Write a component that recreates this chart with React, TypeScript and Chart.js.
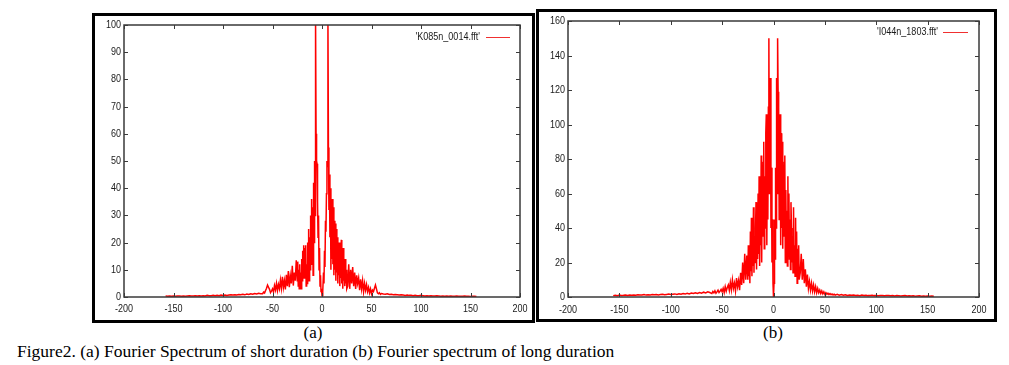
import React, { useEffect, useRef } from "react";
import { Chart, registerables } from "chart.js";

Chart.register(...registerables);

// ---------- Panel (a): 'K085n_0014.fft' ----------
const A_LABEL = "'K085n_0014.fft'";
const A_TAIL_L_START = -158; // step 2
const A_TAIL_L = [
  0.4, 0.3, 0.4, 0.3, 0.4, 0.3, 0.4, 0.4, 0.3,
  0.4, 0.3, 0.4, 0.5, 0.4, 0.4, 0.5, 0.4, 0.5, 0.4,
  0.5, 0.4, 0.6, 0.5, 0.5, 0.6, 0.5, 0.6, 0.5, 0.7,
  0.6, 0.7, 0.6, 0.7, 0.8, 0.7, 0.8, 0.7, 0.9, 0.8,
  1.0, 0.8, 1.1, 0.9, 1.2, 1.0, 1.3, 1.1, 1.4, 1.2,
];
const A_MID_L_START = -60; // step 1
const A_MID_L = [
  1.2, 1.8, 1.5, 2.4, 3.2, 4.4, 3.6, 2.8, 1.6, 2.2,
  3.0, 1.8, 4.2, 2.6, 5.0, 2.4, 4.6, 3.0, 6.2, 3.2,
  7.4, 3.5, 6.0, 2.8, 8.2, 4.0, 9.5, 3.6, 7.8, 5.0,
  11.5, 4.2, 9.0, 6.0, 13.5,
];
const A_CENTER_START = -25; // step 0.5
const A_CENTER = [
  6, 13, 4, 10, 3, 12, 5, 9, 3, 14,
  6, 17, 8, 19, 7, 18, 10, 19, 4, 12,
  5, 20, 8, 25, 6, 22, 10, 30, 12, 36,
  15, 33, 8, 42, 20, 50, 30, 102, 60, 50,
  49, 35, 22, 30, 10, 18, 4, 8, 2, 3,
  0.5,
  3, 2, 9, 5, 17, 11, 28, 24, 38, 50,
  48, 102, 55, 32, 45, 22, 40, 10, 35, 14,
  36, 12, 33, 8, 28, 10, 27, 6, 25, 9,
  22, 5, 19, 8, 20, 4, 16, 7, 21, 5,
  13, 3, 18, 6, 12, 4, 14, 5, 10, 3,
];
const A_MID_R_START = 26; // step 1
const A_MID_R = [
  4, 12, 3, 10, 5, 11, 4, 9, 3, 8,
  5, 7, 2.5, 6.5, 3, 6, 2, 5, 2.5, 4.5,
  2, 3.5, 1.5, 3, 1.2, 2.5, 2, 3.2, 4.4, 3,
  1.5, 1.2, 1.6, 1.0, 1.3,
];
const A_TAIL_R_START = 62; // step 2
const A_TAIL_R = [
  1.1, 1.0, 1.2, 0.9, 1.0, 0.8, 0.9, 0.8, 0.7, 0.8,
  0.7, 0.6, 0.7, 0.6, 0.6, 0.5, 0.6, 0.5, 0.5, 0.6,
  0.5, 0.4, 0.5, 0.4, 0.5, 0.4, 0.4, 0.5, 0.4, 0.3,
  0.4, 0.3, 0.4, 0.3, 0.4, 0.3, 0.3, 0.4, 0.3, 0.3,
  0.3, 0.4, 0.3, 0.3, 0.2, 0.3, 0.3, 0.2,
];

// ---------- Panel (b): 'I044n_1803.fft' ----------
const B_LABEL = "'I044n_1803.fft'";
const B_TAIL_L_START = -156; // step 2
const B_TAIL_L = [
  0.8, 1.0, 0.8, 1.1, 0.9, 1.0, 1.2, 0.9, 1.1, 1.0,
  1.2, 1.0, 1.3, 1.1, 1.2, 1.4, 1.1, 1.3, 1.2, 1.4,
  1.3, 1.5, 1.2, 1.4, 1.6, 1.3, 1.5, 1.7, 1.4, 1.6,
  1.8, 1.5, 1.9, 1.6, 2.0, 1.7, 2.2, 1.8, 2.3, 2.0,
  2.5, 2.1, 2.6, 2.2, 2.8, 2.4, 3.0, 2.6,
];
const B_MID_L_START = -60; // step 1
const B_MID_L = [
  2.0, 3.2, 2.4, 3.6, 2.2, 3.0, 4.0, 2.6, 3.4, 4.4,
  3.0, 5.0, 2.6, 6.0, 3.4, 5.5, 7.0, 3.8, 8.5, 4.2,
  10.0, 5.0, 8.0, 3.5, 11.0, 6.0, 9.5, 4.0, 14.0, 7.0,
  20.0, 8.0, 25.0, 10.0, 24.0,
];
const B_CENTER_START = -25; // step 0.5
const B_CENTER = [
  10, 30, 12, 28, 8, 38, 15, 46, 12, 30,
  18, 52, 14, 35, 20, 40, 55, 16, 45, 22,
  60, 25, 70, 18, 50, 30, 82, 20, 62, 35,
  78, 90, 28, 70, 40, 95, 106, 30, 85, 45,
  110, 150, 60, 119, 127, 40, 75, 20, 45, 8,
  0,
  8, 45, 22, 75, 40, 127, 60, 150, 119, 110,
  45, 85, 106, 30, 95, 40, 90, 28, 70, 35,
  78, 82, 20, 62, 30, 50, 18, 70, 25, 60,
  22, 45, 16, 55, 40, 20, 35, 14, 52, 18,
  30, 12, 46, 15, 38, 8, 28, 12, 30, 10,
];
const B_MID_R_START = 26; // step 1
const B_MID_R = [
  14, 25, 10, 22, 8, 16, 6, 13, 5, 9,
  4, 8, 3.5, 7, 3, 6, 2.5, 5, 2.5, 4,
  2, 3.5, 1.8, 3, 1.5, 2.5, 1.6, 2.2, 1.4, 2.0,
  1.3, 1.8, 1.2, 1.6, 1.1,
];
const B_TAIL_R_START = 62; // step 2
const B_TAIL_R = [
  1.5, 1.0, 1.4, 1.0, 1.3, 0.9, 1.2, 1.0, 1.1, 0.9,
  1.0, 0.8, 1.1, 0.9, 1.0, 0.8, 0.9, 1.0, 0.8, 0.9,
  0.7, 0.9, 0.8, 0.7, 0.8, 0.9, 0.7, 0.8, 0.6, 0.8,
  0.7, 0.6, 0.7, 0.8, 0.6, 0.7, 0.6, 0.7, 0.5, 0.6,
  0.7, 0.5, 0.6, 0.5, 0.6, 0.5, 0.6, 0.5,
];

// ---------- Axes ----------
const X_MIN = -200;
const X_MAX = 200;
const X_STEP = 50;
const A_Y_MAX = 100;
const A_Y_STEP = 10;
const B_Y_MAX = 160;
const B_Y_STEP = 20;

const CAPTION_A = "(a)";
const CAPTION_B = "(b)";
const FIGURE_CAPTION =
  "Figure2. (a) Fourier Spectrum of short duration (b) Fourier spectrum of long duration";

type Seg = [number, number, number[]];

function buildPoints(segs: Seg[]) {
  const pts: { x: number; y: number }[] = [];
  segs.forEach(([start, step, vals]) => {
    vals.forEach((v, i) => pts.push({ x: start + i * step, y: v }));
  });
  return pts;
}

const SEGS_A: Seg[] = [
  [A_TAIL_L_START, 2, A_TAIL_L],
  [A_MID_L_START, 1, A_MID_L],
  [A_CENTER_START, 0.5, A_CENTER],
  [A_MID_R_START, 1, A_MID_R],
  [A_TAIL_R_START, 2, A_TAIL_R],
];
const SEGS_B: Seg[] = [
  [B_TAIL_L_START, 2, B_TAIL_L],
  [B_MID_L_START, 1, B_MID_L],
  [B_CENTER_START, 0.5, B_CENTER],
  [B_MID_R_START, 1, B_MID_R],
  [B_TAIL_R_START, 2, B_TAIL_R],
];

const FONT = "'Liberation Sans', Arial, sans-serif";
const NARROW = 0.82; // horizontal squeeze imitating the narrow gnuplot font
const TEXT_COLOR = "#1a1a1a";

type KeyOpts = {
  keyDy: number;
  keyTextRight: number;
  keyLineStart: number;
  keyLineEnd: number;
  xLabelDy: number;
};

function drawNarrow(ctx: any, text: string, x: number, y: number, align: string) {
  ctx.save();
  ctx.translate(x, y);
  ctx.scale(NARROW, 1);
  ctx.textAlign = align;
  ctx.fillText(text, 0, 0);
  ctx.restore();
}

function makeFramePlugin(k: KeyOpts) {
  return {
    id: "gnuframe",
    afterDatasetsDraw(chart: any) {
      const { ctx, chartArea: a, scales } = chart;
      ctx.save();
      ctx.strokeStyle = "#3a3a3a";
      ctx.lineWidth = 1.5;
      ctx.strokeRect(a.left, a.top, a.right - a.left, a.bottom - a.top);
      ctx.lineWidth = 1;
      ctx.beginPath();
      const tl = 4;
      scales.x.ticks.forEach((t: any) => {
        const px = Math.round(scales.x.getPixelForValue(t.value)) + 0.5;
        ctx.moveTo(px, a.bottom);
        ctx.lineTo(px, a.bottom - tl);
        ctx.moveTo(px, a.top);
        ctx.lineTo(px, a.top + tl);
      });
      scales.y.ticks.forEach((t: any) => {
        const py = Math.round(scales.y.getPixelForValue(t.value)) + 0.5;
        ctx.moveTo(a.left, py);
        ctx.lineTo(a.left + tl, py);
        ctx.moveTo(a.right, py);
        ctx.lineTo(a.right - tl, py);
      });
      ctx.stroke();

      // tick labels
      ctx.font = `11px ${FONT}`;
      ctx.fillStyle = TEXT_COLOR;
      ctx.textBaseline = "middle";
      scales.x.ticks.forEach((t: any) => {
        const px = scales.x.getPixelForValue(t.value);
        drawNarrow(ctx, String(t.value), px, a.bottom + k.xLabelDy, "center");
      });
      scales.y.ticks.forEach((t: any) => {
        const py = scales.y.getPixelForValue(t.value);
        drawNarrow(ctx, String(t.value), a.left - 3, py, "right");
      });

      // key (gnuplot style, inside top right)
      const ds = chart.data.datasets[0];
      const y = a.top + k.keyDy;
      drawNarrow(ctx, ds.label, a.right - k.keyTextRight, y, "right");
      ctx.strokeStyle = "#f03030";
      ctx.lineWidth = 1;
      ctx.beginPath();
      ctx.moveTo(a.right - k.keyLineStart, Math.round(y) + 0.5);
      ctx.lineTo(a.right - k.keyLineEnd, Math.round(y) + 0.5);
      ctx.stroke();
      ctx.restore();
    },
  };
}

type PanelProps = {
  left: number;
  top: number;
  width: number;
  height: number;
  padTop: number;
  padRight: number;
  yAxisW: number;
  xAxisH: number;
  label: string;
  segs: Seg[];
  yMax: number;
  yStep: number;
  keyOpts: KeyOpts;
};

function Panel(p: PanelProps) {
  const ref = useRef<HTMLCanvasElement | null>(null);
  useEffect(() => {
    if (!ref.current) return;
    const chart = new Chart(ref.current, {
      type: "line",
      data: {
        datasets: [
          {
            label: p.label,
            data: buildPoints(p.segs),
            borderColor: "#ff0000",
            borderWidth: 1.5,
            pointRadius: 0,
            tension: 0,
            fill: false,
          },
        ],
      },
      options: {
        animation: false,
        responsive: false,
        devicePixelRatio: 1,
        layout: { padding: { top: p.padTop, right: p.padRight, left: 0, bottom: 0 } },
        plugins: {
          legend: { display: false },
          tooltip: { enabled: false },
        },
        scales: {
          x: {
            type: "linear",
            min: X_MIN,
            max: X_MAX,
            grid: { display: false, drawTicks: false },
            border: { display: false },
            ticks: { stepSize: X_STEP, display: false },
            afterFit: (s: any) => {
              s.height = p.xAxisH;
            },
          },
          y: {
            type: "linear",
            min: 0,
            max: p.yMax,
            grid: { display: false, drawTicks: false },
            border: { display: false },
            ticks: { stepSize: p.yStep, display: false },
            afterFit: (s: any) => {
              s.width = p.yAxisW;
            },
          },
        },
      },
      plugins: [makeFramePlugin(p.keyOpts)],
    } as any);
    return () => chart.destroy();
  }, []);
  return (
    <canvas
      ref={ref}
      width={p.width}
      height={p.height}
      style={{ position: "absolute", left: p.left, top: p.top, width: p.width, height: p.height }}
    />
  );
}

export default function App() {
  const serif = "'Liberation Serif', 'Times New Roman', serif";
  return (
    <div
      style={{
        position: "absolute",
        left: 0,
        top: 0,
        width: 1009,
        height: 365,
        background: "#fff",
        overflow: "hidden",
      }}
    >
      <div
        style={{
          position: "absolute",
          left: 92,
          top: 13,
          width: 443,
          height: 310,
          border: "3px solid #000",
          boxSizing: "border-box",
        }}
      />
      <div
        style={{
          position: "absolute",
          left: 536,
          top: 9,
          width: 461,
          height: 313,
          border: "3px solid #000",
          boxSizing: "border-box",
        }}
      />
      <Panel
        left={95}
        top={16}
        width={437}
        height={304}
        padTop={9}
        padRight={12}
        yAxisW={29}
        xAxisH={23}
        label={A_LABEL}
        segs={SEGS_A}
        yMax={A_Y_MAX}
        yStep={A_Y_STEP}
        keyOpts={{ keyDy: 12, keyTextRight: 40, keyLineStart: 34, keyLineEnd: 10, xLabelDy: 12 }}
      />
      <Panel
        left={539}
        top={12}
        width={455}
        height={307}
        padTop={9}
        padRight={15}
        yAxisW={29}
        xAxisH={22}
        label={B_LABEL}
        segs={SEGS_B}
        yMax={B_Y_MAX}
        yStep={B_Y_STEP}
        keyOpts={{ keyDy: 11, keyTextRight: 41, keyLineStart: 36, keyLineEnd: 11, xLabelDy: 13 }}
      />
      <div
        style={{
          position: "absolute",
          left: 288,
          top: 323,
          width: 50,
          textAlign: "center",
          font: `17px ${serif}`,
          color: "#000",
        }}
      >
        {CAPTION_A}
      </div>
      <div
        style={{
          position: "absolute",
          left: 748,
          top: 323,
          width: 50,
          textAlign: "center",
          font: `17px ${serif}`,
          color: "#000",
        }}
      >
        {CAPTION_B}
      </div>
      <div
        style={{
          position: "absolute",
          left: 17,
          top: 341,
          whiteSpace: "nowrap",
          font: `17.5px ${serif}`,
          color: "#000",
        }}
      >
        {FIGURE_CAPTION}
      </div>
    </div>
  );
}
